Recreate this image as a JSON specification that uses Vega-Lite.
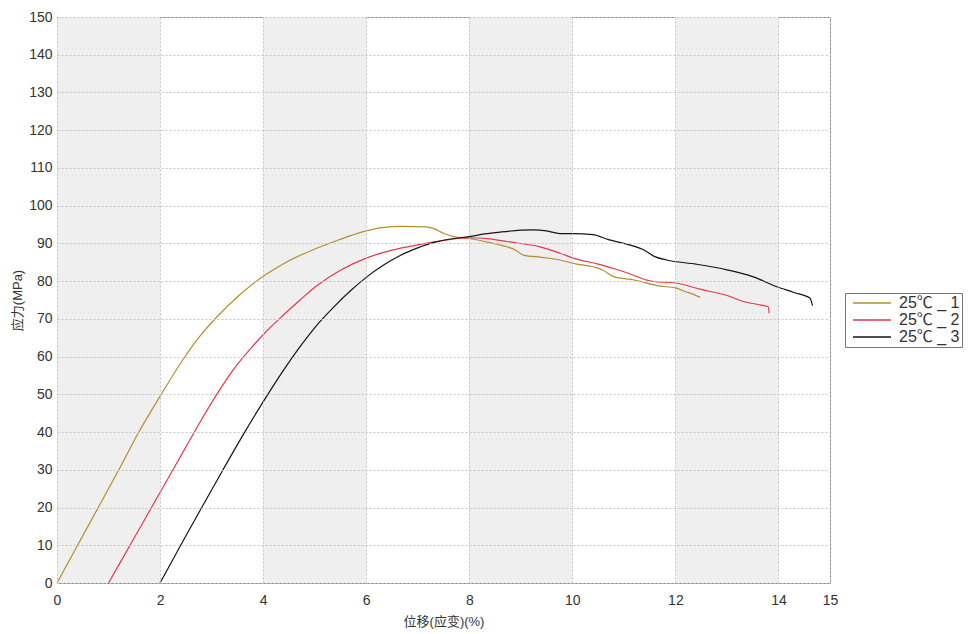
{
  "$schema": "https://vega.github.io/schema/vega-lite/v6.json",
  "width": 773,
  "height": 566,
  "autosize": "none",
  "padding": {"left": 57, "top": 17, "right": 140, "bottom": 51},
  "background": "white",
  "config": {
    "view": {"stroke": "#8a8a8a", "strokeWidth": 1},
    "font": "Liberation Sans, Noto Sans CJK SC"
  },
  "datasets": {
    "bands": [
      {"x0": 0, "x1": 2}, {"x0": 4, "x1": 6}, {"x0": 8, "x1": 10}, {"x0": 12, "x1": 14}
    ],
    "curves": [
      {"s": "25℃ _ 1", "x": 0, "y": 0},
      {"s": "25℃ _ 1", "x": 0.4, "y": 10},
      {"s": "25℃ _ 1", "x": 0.8, "y": 20},
      {"s": "25℃ _ 1", "x": 1.2, "y": 30},
      {"s": "25℃ _ 1", "x": 1.58, "y": 39.8},
      {"s": "25℃ _ 1", "x": 2.0, "y": 49.5},
      {"s": "25℃ _ 1", "x": 2.45, "y": 59.3},
      {"s": "25℃ _ 1", "x": 2.75, "y": 65},
      {"s": "25℃ _ 1", "x": 3.1, "y": 70.5},
      {"s": "25℃ _ 1", "x": 3.5, "y": 75.8},
      {"s": "25℃ _ 1", "x": 3.87, "y": 80},
      {"s": "25℃ _ 1", "x": 4.13, "y": 82.4},
      {"s": "25℃ _ 1", "x": 4.5, "y": 85.4},
      {"s": "25℃ _ 1", "x": 5.04, "y": 88.7},
      {"s": "25℃ _ 1", "x": 5.5, "y": 91.1},
      {"s": "25℃ _ 1", "x": 6.0, "y": 93.3},
      {"s": "25℃ _ 1", "x": 6.3, "y": 94.2},
      {"s": "25℃ _ 1", "x": 6.7, "y": 94.5},
      {"s": "25℃ _ 1", "x": 7.17, "y": 94.4},
      {"s": "25℃ _ 1", "x": 7.3, "y": 94},
      {"s": "25℃ _ 1", "x": 7.5, "y": 92.7},
      {"s": "25℃ _ 1", "x": 7.7, "y": 91.8},
      {"s": "25℃ _ 1", "x": 8.0, "y": 91.3},
      {"s": "25℃ _ 1", "x": 8.4, "y": 90.2},
      {"s": "25℃ _ 1", "x": 8.73, "y": 89.1},
      {"s": "25℃ _ 1", "x": 8.9, "y": 88.2},
      {"s": "25℃ _ 1", "x": 9.05, "y": 86.9},
      {"s": "25℃ _ 1", "x": 9.4, "y": 86.3},
      {"s": "25℃ _ 1", "x": 9.76, "y": 85.6},
      {"s": "25℃ _ 1", "x": 10.02, "y": 84.7},
      {"s": "25℃ _ 1", "x": 10.4, "y": 83.8},
      {"s": "25℃ _ 1", "x": 10.6, "y": 82.9},
      {"s": "25℃ _ 1", "x": 10.8, "y": 81.2},
      {"s": "25℃ _ 1", "x": 11.2, "y": 80.3},
      {"s": "25℃ _ 1", "x": 11.7, "y": 78.7},
      {"s": "25℃ _ 1", "x": 12.0, "y": 78.2},
      {"s": "25℃ _ 1", "x": 12.2, "y": 77.2},
      {"s": "25℃ _ 1", "x": 12.35, "y": 76.5},
      {"s": "25℃ _ 1", "x": 12.48, "y": 75.7},
      {"s": "25℃ _ 2", "x": 1.0, "y": 0},
      {"s": "25℃ _ 2", "x": 1.5, "y": 12},
      {"s": "25℃ _ 2", "x": 2.0, "y": 24},
      {"s": "25℃ _ 2", "x": 2.5, "y": 36},
      {"s": "25℃ _ 2", "x": 2.8, "y": 43.2},
      {"s": "25℃ _ 2", "x": 3.1, "y": 50},
      {"s": "25℃ _ 2", "x": 3.42, "y": 56.5},
      {"s": "25℃ _ 2", "x": 3.75, "y": 62},
      {"s": "25℃ _ 2", "x": 4.0, "y": 65.8},
      {"s": "25℃ _ 2", "x": 4.33, "y": 70.2},
      {"s": "25℃ _ 2", "x": 4.7, "y": 74.8},
      {"s": "25℃ _ 2", "x": 5.04, "y": 78.8},
      {"s": "25℃ _ 2", "x": 5.5, "y": 82.9},
      {"s": "25℃ _ 2", "x": 6.0, "y": 86.1},
      {"s": "25℃ _ 2", "x": 6.5, "y": 88.2},
      {"s": "25℃ _ 2", "x": 7.0, "y": 89.6},
      {"s": "25℃ _ 2", "x": 7.5, "y": 90.8},
      {"s": "25℃ _ 2", "x": 8.0, "y": 91.5},
      {"s": "25℃ _ 2", "x": 8.4, "y": 91.2},
      {"s": "25℃ _ 2", "x": 8.73, "y": 90.5},
      {"s": "25℃ _ 2", "x": 9.37, "y": 89.1},
      {"s": "25℃ _ 2", "x": 9.76, "y": 87.4},
      {"s": "25℃ _ 2", "x": 10.02, "y": 86.1},
      {"s": "25℃ _ 2", "x": 10.5, "y": 84.5},
      {"s": "25℃ _ 2", "x": 11.0, "y": 82.5},
      {"s": "25℃ _ 2", "x": 11.57, "y": 79.9},
      {"s": "25℃ _ 2", "x": 12.0, "y": 79.5},
      {"s": "25℃ _ 2", "x": 12.5, "y": 77.8},
      {"s": "25℃ _ 2", "x": 13.0, "y": 76.2},
      {"s": "25℃ _ 2", "x": 13.32, "y": 74.6},
      {"s": "25℃ _ 2", "x": 13.6, "y": 73.8},
      {"s": "25℃ _ 2", "x": 13.8, "y": 73.2},
      {"s": "25℃ _ 2", "x": 13.82, "y": 71.5},
      {"s": "25℃ _ 3", "x": 2.0, "y": 0},
      {"s": "25℃ _ 3", "x": 2.4, "y": 10},
      {"s": "25℃ _ 3", "x": 2.8, "y": 19.8},
      {"s": "25℃ _ 3", "x": 3.2, "y": 29.5},
      {"s": "25℃ _ 3", "x": 3.6, "y": 39},
      {"s": "25℃ _ 3", "x": 4.0, "y": 48},
      {"s": "25℃ _ 3", "x": 4.39, "y": 56.3},
      {"s": "25℃ _ 3", "x": 4.72, "y": 62.7},
      {"s": "25℃ _ 3", "x": 5.04, "y": 68.3},
      {"s": "25℃ _ 3", "x": 5.36, "y": 73},
      {"s": "25℃ _ 3", "x": 5.7, "y": 77.5},
      {"s": "25℃ _ 3", "x": 6.0, "y": 81},
      {"s": "25℃ _ 3", "x": 6.33, "y": 84.2},
      {"s": "25℃ _ 3", "x": 6.66, "y": 86.8},
      {"s": "25℃ _ 3", "x": 7.0, "y": 88.8},
      {"s": "25℃ _ 3", "x": 7.3, "y": 90.2},
      {"s": "25℃ _ 3", "x": 7.6, "y": 91.1},
      {"s": "25℃ _ 3", "x": 8.0, "y": 91.8},
      {"s": "25℃ _ 3", "x": 8.3, "y": 92.5},
      {"s": "25℃ _ 3", "x": 8.6, "y": 93},
      {"s": "25℃ _ 3", "x": 9.0, "y": 93.5},
      {"s": "25℃ _ 3", "x": 9.24, "y": 93.6},
      {"s": "25℃ _ 3", "x": 9.5, "y": 93.3},
      {"s": "25℃ _ 3", "x": 9.76, "y": 92.6},
      {"s": "25℃ _ 3", "x": 10.02, "y": 92.6},
      {"s": "25℃ _ 3", "x": 10.4, "y": 92.3},
      {"s": "25℃ _ 3", "x": 10.7, "y": 91},
      {"s": "25℃ _ 3", "x": 11.0, "y": 90},
      {"s": "25℃ _ 3", "x": 11.37, "y": 88.4},
      {"s": "25℃ _ 3", "x": 11.6, "y": 86.5},
      {"s": "25℃ _ 3", "x": 11.83, "y": 85.6},
      {"s": "25℃ _ 3", "x": 12.4, "y": 84.5},
      {"s": "25℃ _ 3", "x": 13.0, "y": 83},
      {"s": "25℃ _ 3", "x": 13.5, "y": 81.2},
      {"s": "25℃ _ 3", "x": 13.97, "y": 78.5},
      {"s": "25℃ _ 3", "x": 14.3, "y": 77},
      {"s": "25℃ _ 3", "x": 14.61, "y": 75.5},
      {"s": "25℃ _ 3", "x": 14.66, "y": 73.5}
    ]
  },
  "layer": [
    {
      "data": {"name": "bands"},
      "mark": {"type": "rect", "color": "#efefef"},
      "encoding": {
        "x": {"field": "x0", "type": "quantitative", "scale": {"domain": [0, 15], "nice": false}},
        "x2": {"field": "x1"}
      }
    },
    {
      "data": {"name": "curves"},
      "mark": {"type": "line", "strokeWidth": 1.2, "interpolate": "monotone"},
      "encoding": {
        "x": {
          "field": "x", "type": "quantitative",
          "scale": {"domain": [0, 15], "nice": false, "zero": false},
          "axis": {
            "values": [0, 2, 4, 6, 8, 10, 12, 14, 15],
            "title": "位移(应变)(%)",
            "titleFontWeight": "normal", "titleFontSize": 13, "titleColor": "#333",
            "titlePadding": 8,
            "labelFontSize": 14, "labelColor": "#333", "labelPadding": 10,
            "labelFlush": false,
            "ticks": false, "domain": false,
            "grid": true, "gridColor": "#c4c4c4", "gridDash": [2, 2], "gridWidth": 1,
            "zindex": 1
          }
        },
        "y": {
          "field": "y", "type": "quantitative",
          "scale": {"domain": [0, 150], "nice": false},
          "axis": {
            "values": [0, 10, 20, 30, 40, 50, 60, 70, 80, 90, 100, 110, 120, 130, 140, 150],
            "title": "应力(MPa)",
            "titleFontWeight": "normal", "titleFontSize": 13, "titleColor": "#333",
            "titlePadding": 4,
            "labelFontSize": 14, "labelColor": "#333", "labelPadding": 5,
            "labelFlush": false,
            "ticks": false, "domain": false,
            "grid": true, "gridColor": "#c4c4c4", "gridDash": [2, 2], "gridWidth": 1,
            "zindex": 1
          }
        },
        "color": {
          "field": "s", "type": "nominal",
          "scale": {"domain": ["25℃ _ 1", "25℃ _ 2", "25℃ _ 3"], "range": ["#b38f2c", "#e33a4b", "#151515"]},
          "legend": {
            "title": null,
            "orient": "none",
            "legendX": 788,
            "legendY": 276,
            "strokeColor": "#777",
            "padding": 2,
            "symbolType": "M-0.286,0H5.14",
            "symbolSize": 196,
            "symbolStrokeWidth": 1.3,
            "labelFontSize": 16,
            "labelOffset": 36,
            "labelColor": "#333",
            "rowPadding": 1
          }
        }
      }
    }
  ]
}
